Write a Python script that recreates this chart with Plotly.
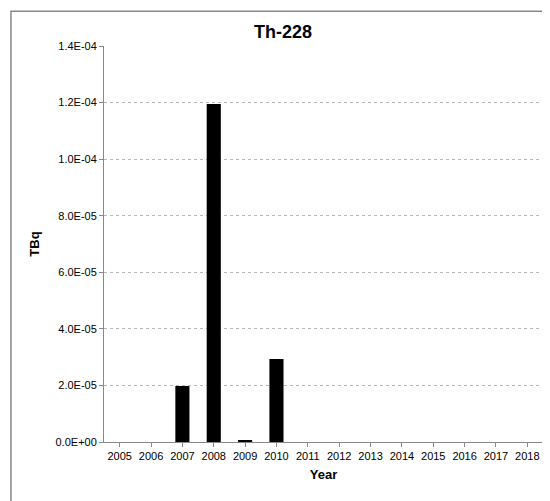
import plotly.graph_objects as go

years = [str(y) for y in range(2005, 2019)]
tbq = [0, 0, 1.98e-05, 1.195e-04, 6e-07, 2.93e-05, 0, 0, 0, 0, 0, 0, 0, 0]
tick_vals = [0, 2e-05, 4e-05, 6e-05, 8e-05, 1e-04, 1.2e-04, 1.4e-04]
tick_text = ["0.0E+00", "2.0E-05", "4.0E-05", "6.0E-05", "8.0E-05", "1.0E-04", "1.2E-04", "1.4E-04"]

fig = go.Figure(go.Bar(x=years, y=tbq, marker_color="black", marker_line_width=0))
fig.update_layout(
    width=550, height=501,
    margin=dict(l=96, r=15, t=38, b=67),
    paper_bgcolor="white", plot_bgcolor="white",
    font=dict(family="Liberation Sans", size=11, color="black"),
    title=dict(text="<b>Th-228</b>", x=0.5, xanchor="center", y=0.965, font=dict(size=18)),
    bargap=0.55,
    showlegend=False,
    shapes=[dict(type="rect", xref="paper", yref="paper", x0=-0.212, x1=1.025, y0=-0.16, y1=1.088,
                 line=dict(color="#888888", width=1.5), layer="above")],
)
fig.update_xaxes(title=dict(text="<b>Year</b>", font=dict(size=13), standoff=8),
                 showline=True, linecolor="#888888", ticks="outside", tickcolor="#888888", ticklen=4)
fig.update_yaxes(title=dict(text="<b>TBq</b>", font=dict(size=13), standoff=12),
                 range=[0, 1.4e-04], tickvals=tick_vals, ticktext=tick_text,
                 showgrid=True, gridcolor="#b8b8b8", griddash="dot",
                 showline=True, linecolor="#888888", ticks="outside", tickcolor="#888888", ticklen=4,
                 zeroline=False)
fig.write_html("out.html")
